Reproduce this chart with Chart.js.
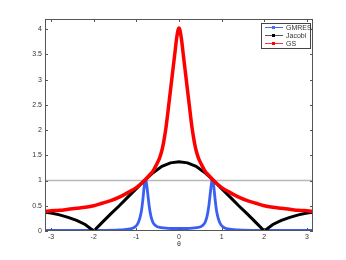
<!DOCTYPE html>
<html>
<head>
<meta charset="utf-8">
<script src="https://cdn.jsdelivr.net/npm/chart.js@4"></script>
<style>
html, body { margin: 0; padding: 0; background: #fff; }
#wrap { position: relative; width: 346px; height: 260px; }
#legend { position: absolute; left: 261px; top: 23px; width: 48px; height: 24px; border: 1px solid #444; background: #fff;
  font: 7px "Liberation Sans", Arial, sans-serif; color: #333; }
.row { position: absolute; left: 3px; width: 44px; height: 8px; }
.ln { position: absolute; left: 0; top: 3px; width: 18px; height: 0; border-top: 1px solid; }
.mk { position: absolute; left: 7px; top: 2px; width: 3px; height: 3px; }
.tx { position: absolute; left: 21px; top: 0; line-height: 8px; }
</style>
</head>
<body>
<div id="wrap">
  <canvas id="chart" width="346" height="260"></canvas>
  <div id="legend">
    <div class="row" style="top:0px"><span class="ln" style="border-color:#4a6cf4"></span><span class="mk" style="background:#4a6cf4"></span><span class="tx">GMRES</span></div>
    <div class="row" style="top:8px"><span class="ln" style="border-color:#555"></span><span class="mk" style="background:#000"></span><span class="tx">Jacobi</span></div>
    <div class="row" style="top:16px"><span class="ln" style="border-color:#f33"></span><span class="mk" style="background:#f00"></span><span class="tx">GS</span></div>
  </div>
</div>
<script>
// values
const gmresTheta = [-3.1416,-2.5,-1.8,-1.4,-1.15,-1.03,-0.97,-0.92,-0.88,-0.85,-0.82,-0.8,-0.78,-0.76,-0.73,-0.7,-0.66,-0.62,-0.58,-0.52,-0.45,-0.35,-0.2,
  0, 0.2,0.35,0.45,0.52,0.58,0.62,0.66,0.7,0.73,0.76,0.78,0.8,0.82,0.85,0.88,0.92,0.97,1.03,1.15,1.4,1.8,2.5,3.1416];
const gmresValues = [0.01,0.01,0.012,0.02,0.04,0.08,0.14,0.25,0.4,0.6,0.85,1.0,1.02,0.93,0.72,0.5,0.3,0.19,0.13,0.09,0.07,0.06,0.05,
  0.05, 0.05,0.06,0.07,0.09,0.13,0.19,0.3,0.5,0.72,0.93,1.02,1.0,0.85,0.6,0.4,0.25,0.14,0.08,0.04,0.02,0.012,0.01,0.01];

const jacobiTheta = [-3.1416,-3.0,-2.8,-2.6,-2.4,-2.2,-2.0,-1.8,-1.6,-1.4,-1.2,-1.0,-0.8,-0.6,-0.4,-0.2,
  0, 0.2,0.4,0.6,0.8,1.0,1.2,1.4,1.6,1.8,2.0,2.2,2.4,2.6,2.8,3.0,3.1416];
const jacobiValues = [0.37,0.355,0.32,0.27,0.21,0.13,0.0,0.17,0.34,0.5,0.67,0.84,1.01,1.16,1.28,1.35,
  1.37, 1.35,1.28,1.16,1.01,0.84,0.67,0.5,0.34,0.17,0.0,0.13,0.21,0.27,0.32,0.355,0.37];

const gsTheta = [-3.1416,-3.0,-2.8,-2.6,-2.4,-2.2,-2.0,-1.8,-1.6,-1.4,-1.2,-1.0,-0.9,-0.8,-0.7,-0.6,-0.55,-0.5,-0.45,-0.4,-0.36,-0.31,-0.24,-0.17,-0.1,-0.05,
  0, 0.05,0.1,0.17,0.24,0.31,0.36,0.4,0.45,0.5,0.55,0.6,0.7,0.8,0.9,1.0,1.2,1.4,1.6,1.8,2.0,2.2,2.4,2.6,2.8,3.0,3.1416];
const gsValues = [0.39,0.40,0.41,0.43,0.45,0.47,0.50,0.55,0.60,0.67,0.76,0.86,0.93,1.01,1.10,1.20,1.28,1.36,1.46,1.60,1.76,2.02,2.50,3.00,3.50,3.85,
  4.02, 3.85,3.50,3.00,2.50,2.02,1.76,1.60,1.46,1.36,1.28,1.20,1.10,1.01,0.93,0.86,0.76,0.67,0.60,0.55,0.50,0.47,0.45,0.43,0.41,0.40,0.39];

const refLine = [1, 1];
const xTicks = [-3, -2, -1, 0, 1, 2, 3];
const yTicks = [0, 0.5, 1, 1.5, 2, 2.5, 3, 3.5, 4];

function pts(xs, ys) {
    return xs.map((x, i) => ({ x: x, y: ys[i] }));
}

// matlab style box with inward ticks
const boxPlugin = {
    id: 'box',
    afterDraw(chart) {
        const ctx = chart.ctx;
        const a = chart.chartArea;
        const x = chart.scales.x, y = chart.scales.y;
        ctx.save();
        ctx.strokeStyle = '#555';
        ctx.lineWidth = 1;
        ctx.strokeRect(a.left + 0.5, a.top + 0.5, a.right - a.left - 1, a.bottom - a.top - 1);
        ctx.beginPath();
        xTicks.forEach(v => {
            const p = Math.round(x.getPixelForValue(v)) + 0.5;
            ctx.moveTo(p, a.bottom); ctx.lineTo(p, a.bottom - 3);
            ctx.moveTo(p, a.top); ctx.lineTo(p, a.top + 3);
        });
        yTicks.forEach(v => {
            const p = Math.round(y.getPixelForValue(v)) + 0.5;
            ctx.moveTo(a.left, p); ctx.lineTo(a.left + 3, p);
            ctx.moveTo(a.right, p); ctx.lineTo(a.right - 3, p);
        });
        ctx.stroke();
        ctx.restore();
    }
};

const tickFont = { family: '"Liberation Sans", Arial, sans-serif', size: 7 };

new Chart(document.getElementById('chart').getContext('2d'), {
    type: 'line',
    data: {
        datasets: [
            { label: 'GS', data: pts(gsTheta, gsValues), borderColor: '#ff0000', borderWidth: 3.5,
              pointRadius: 0, cubicInterpolationMode: 'monotone', order: 1 },
            { label: 'Jacobi', data: pts(jacobiTheta, jacobiValues), borderColor: '#000', borderWidth: 3,
              pointRadius: 0, tension: 0, order: 2 },
            { label: 'GMRES', data: pts(gmresTheta, gmresValues), borderColor: '#3a60f2', borderWidth: 2.8,
              pointRadius: 0, cubicInterpolationMode: 'monotone', order: 3 },
            { label: 'ref', data: pts([-Math.PI, Math.PI], refLine), borderColor: '#b8b8b8', borderWidth: 1.5,
              pointRadius: 0, order: 4 }
        ]
    },
    options: {
        responsive: false,
        animation: false,
        layout: { padding: { left: 0, top: 19, right: 33, bottom: 0 } },
        plugins: { legend: { display: false }, tooltip: { enabled: false } },
        scales: {
            x: {
                type: 'linear',
                min: -Math.PI,
                max: Math.PI,
                grid: { display: false, drawTicks: false },
                border: { display: false },
                afterBuildTicks: s => { s.ticks = xTicks.map(v => ({ value: v })); },
                afterFit: s => { s.height = 29; },
                ticks: { font: tickFont, color: '#333', padding: 2, maxRotation: 0, callback: v => String(v) },
                title: { display: true, text: 'θ', font: tickFont, color: '#333', padding: { top: 0, bottom: 12 } }
            },
            y: {
                type: 'linear',
                min: 0,
                max: 4.2,
                grid: { display: false, drawTicks: false },
                border: { display: false },
                afterBuildTicks: s => { s.ticks = yTicks.map(v => ({ value: v })); },
                afterFit: s => { s.width = 45; },
                ticks: { font: tickFont, color: '#333', padding: 3, callback: v => String(v) }
            }
        }
    },
    plugins: [boxPlugin]
});
</script>
</body>
</html>
